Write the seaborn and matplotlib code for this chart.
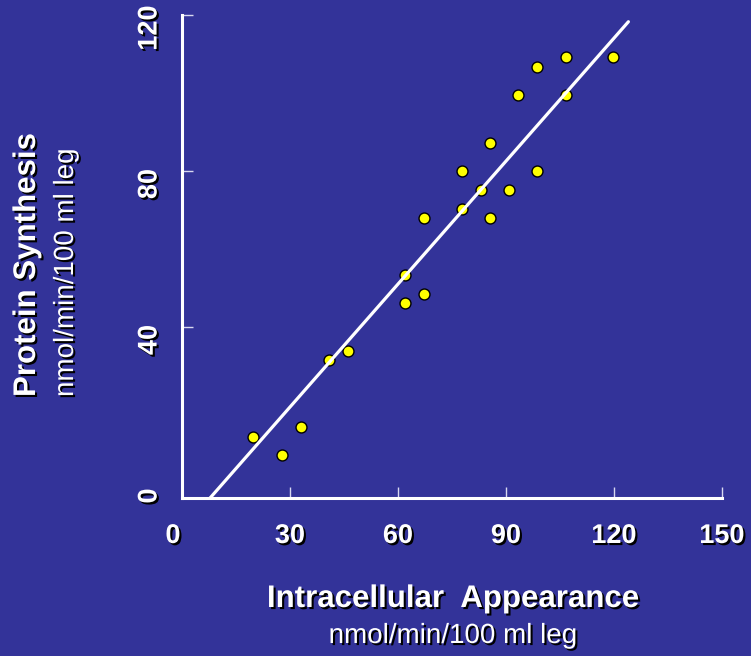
import matplotlib
matplotlib.use("Agg")
import matplotlib.pyplot as plt
import matplotlib.patheffects as pe
from matplotlib.transforms import ScaledTranslation
import seaborn as sns
import numpy as np

# Intracellular appearance vs protein synthesis (nmol/min/100 ml leg)
appearance = [19.8, 27.7, 33.0, 40.8, 46.2, 61.9, 61.9, 67.2, 67.2, 77.7, 77.7,
              85.6, 83.0, 90.9, 85.6, 98.7, 93.4, 98.7, 106.7, 106.7, 119.8]
synthesis = [11.9, 7.1, 14.4, 31.5, 33.8, 53.3, 46.1, 48.5, 67.9, 70.3, 80.0,
             87.3, 75.1, 75.1, 67.9, 80.0, 99.4, 106.7, 109.2, 99.4, 109.2]

# regression line as drawn on the slide
fit_slope = 1.051
fit_intercept = -12.05
fit_range = [7.8, 124.0]

x_ticks = [0, 30, 60, 90, 120, 150]
y_ticks = [0, 40, 80, 120]

BG = "#333399"

sns.set_style("white", {"axes.facecolor": BG, "figure.facecolor": BG})
plt.rcParams["font.family"] = ["Liberation Sans", "DejaVu Sans"]

fig = plt.figure(figsize=(7.51, 6.56), dpi=100)
ax = fig.add_axes([182 / 751, 1 - 498 / 656, (722 - 182) / 751, (498 - 15) / 656])

shadow = [pe.withSimplePatchShadow(offset=(1.5, -1.5), shadow_rgbFace="black", alpha=1.0)]

sns.scatterplot(x=appearance, y=synthesis, ax=ax, s=62, color="#ffff00",
                edgecolor="black", linewidth=1.0, zorder=3)

fit_x = np.array(fit_range)
fit_y = fit_slope * fit_x + fit_intercept
sns.lineplot(x=fit_x, y=fit_y, ax=ax, color="white", linewidth=2.3, zorder=4)

ax.set_xlim(0, 150)
ax.set_ylim(-3.85, 120)
ax.set_xticks(x_ticks)
ax.set_yticks(y_ticks)

for side in ["top", "right"]:
    ax.spines[side].set_visible(False)
for side in ["left", "bottom"]:
    ax.spines[side].set_color("white")
    ax.spines[side].set_linewidth(2.2)

ax.tick_params(axis="both", bottom=True, left=True, direction="in", length=8,
               width=1, color="#d8d8f0", labelcolor="white", labelsize=19.5)
ax.tick_params(axis="x", pad=18)
ax.tick_params(axis="y", pad=14)
ax.yaxis.get_major_ticks()[0].tick1line.set_visible(False)
ax.xaxis.get_major_ticks()[0].tick1line.set_visible(False)

for lab in ax.get_xticklabels():
    lab.set_fontweight("bold")
    lab.set_path_effects(shadow)
ax.get_xticklabels()[0].set_transform(
    ax.get_xticklabels()[0].get_transform() + ScaledTranslation(-0.09, 0, fig.dpi_scale_trans))
for lab in ax.get_yticklabels():
    lab.set_fontweight("bold")
    lab.set_rotation(90)
    lab.set_va("center")
    lab.set_path_effects(shadow)
    lab.set_transform(lab.get_transform() + ScaledTranslation(0, -0.13, fig.dpi_scale_trans))

ax.set_xlabel("")
ax.set_ylabel("")

fig.text(453 / 751, 1 - 599 / 656, "Intracellular  Appearance", color="white",
         fontsize=22.5, fontweight="bold", ha="center", va="center", path_effects=shadow)
fig.text(453 / 751, 1 - 636 / 656, "nmol/min/100 ml leg", color="white",
         fontsize=20, ha="center", va="center", path_effects=shadow)
fig.text(27 / 751, 1 - 397 / 656, "Protein Synthesis", color="white",
         fontsize=22.5, fontweight="bold", rotation=90, ha="center", va="bottom",
         path_effects=shadow)
fig.text(66 / 751, 1 - 397 / 656, "nmol/min/100 ml leg", color="white",
         fontsize=20, rotation=90, ha="center", va="bottom", path_effects=shadow)

fig.savefig("out.png", dpi=100, facecolor=BG)
